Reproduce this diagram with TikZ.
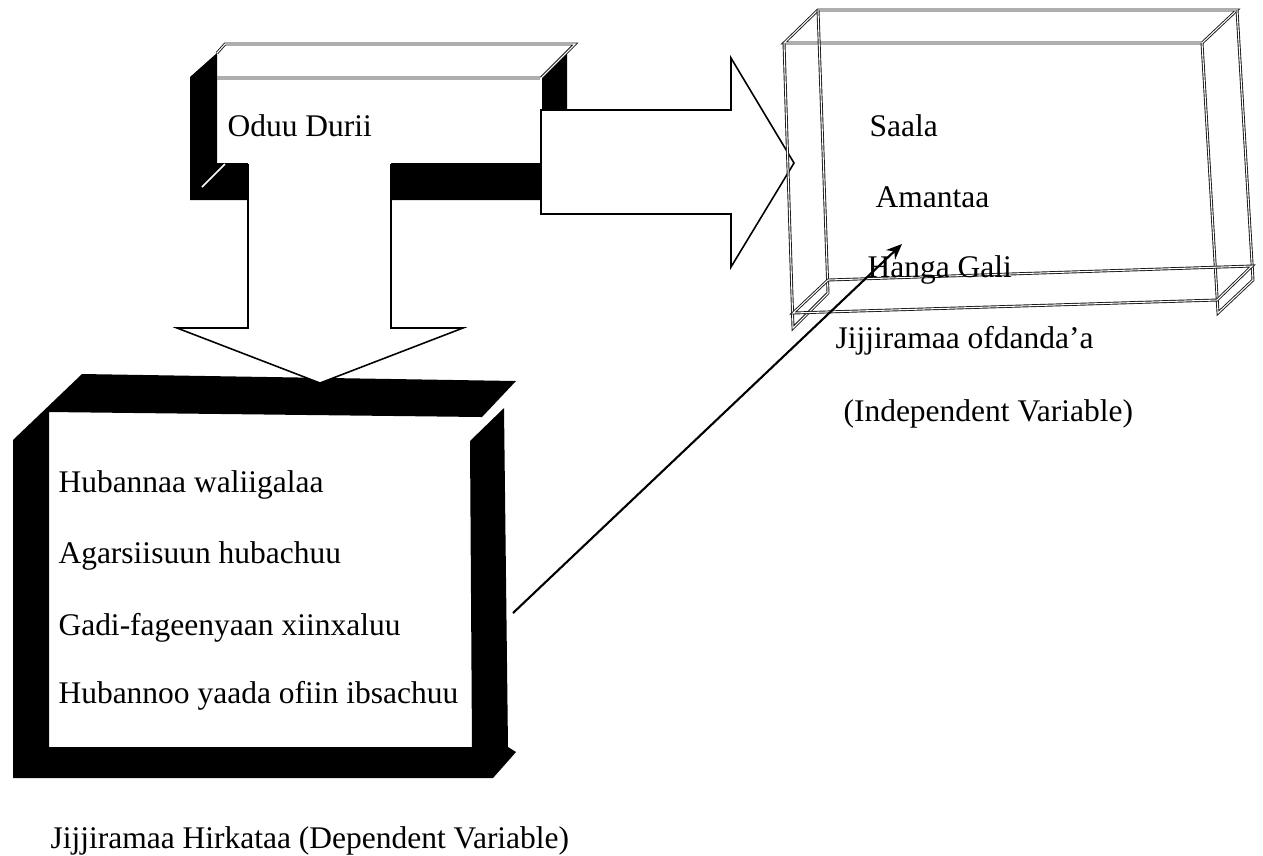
\documentclass[tikz,border=0pt]{standalone}
\usepackage{fontspec}
\setmainfont{Liberation Serif}
\usetikzlibrary{arrows.meta}

\begin{document}
\begin{tikzpicture}[
		x=0.381pt, y=-0.381pt,				% Raster in Bildpunkten
		>={Stealth[length=6pt,width=5pt]},	% Standardpfeilspitzen
		inner sep=0pt,						% Abstand zwischen Text und Rahmen
		font=\fontsize{12}{14}\selectfont,	% Verwendete Schriftgroesse
		txt/.style={anchor=base west},
		kante/.style={line width=0.6pt, line join=miter},
		doppel/.style={double, draw=black!90, line width=0.35pt, double distance=0.4pt}
	]
	\useasboundingbox (0,0) rectangle (1263,855);

	% Kasten oben
	\fill[black] (190,77) -- (217,53) -- (217,163) -- (541,163) -- (541,200) -- (190,200) -- cycle;
	\fill[black] (541,78) -- (567,52) -- (567,110) -- (541,110) -- cycle;
	\draw[white, line width=0.6pt] (225,164) -- (202,187);
	\draw[doppel] (217,53) -- (225,44) -- (575,44) -- (541,78) -- (217,78);
	\draw[doppel] (541,78) -- (541,163);
	\node[txt] (oduu) at (227,136) {Oduu Durii};

	% Pfeil 1: nach rechts
	\filldraw[fill=white, kante] (541,110) -- (731,110) -- (731,58) -- (794,163)
		-- (731,267) -- (731,214) -- (541,214) -- cycle;

	% Kasten unten
	\fill[black] (82,374) -- (516,381) -- (482,417) -- (49,412) -- (49,747) -- (508,747)
		-- (516,752) -- (493,778) -- (13,778) -- (13,440) -- cycle;
	\fill[black] (470,441) -- (504,408) -- (508,748) -- (472,748) -- cycle;
	\node[txt] (hub1) at (58,492) {Hubannaa waliigalaa};
	\node[txt] (hub2) at (58,563) {Agarsiisuun hubachuu};
	\node[txt] (hub3) at (58,635) {Gadi-fageenyaan xiinxaluu};
	\node[txt] (hub4) at (58,703) {Hubannoo yaada ofiin ibsachuu};
	\node[txt] (dv) at (50,848) {Jijjiramaa Hirkataa (Dependent Variable)};

	% Pfeil 2: nach unten
	\fill[white] (248,163) -- (248,328) -- (177,328) -- (320,383) -- (463,328) -- (391,328) -- (391,163) -- cycle;
	\draw[kante] (248,164) -- (248,328) -- (177,328) -- (320,383) -- (463,328) -- (391,328) -- (391,164);

	% Kasten rechts
	\draw[doppel] (818,10) -- (1237,10) -- (1202,43) -- (784,43) -- cycle;
	\draw[doppel] (784,43) -- (793,328) -- (828,293) -- (818,10);
	\draw[doppel] (1202,43) -- (1218,313) -- (1253,280) -- (1237,10);
	\draw[doppel] (793,313) -- (828,280) -- (1252,266) -- (1217,300) -- cycle;
	\node[txt] (saala) at (869,136) {Saala};
	\node[txt] (amantaa) at (875,207) {Amantaa};
	\node[txt] (hanga) at (867,277) {Hanga Gali};
	\node[txt] (iv1) at (835,348) {Jijjiramaa ofdanda’a};
	\node[txt] (iv2) at (843,421) {(Independent Variable)};

	% Verbindung
	\coordinate (dvrand) at (513,613);
	\coordinate (ivziel) at (902,244);
	\draw[->, line width=0.8pt] (dvrand) -- (ivziel);

\end{tikzpicture}
\end{document}
